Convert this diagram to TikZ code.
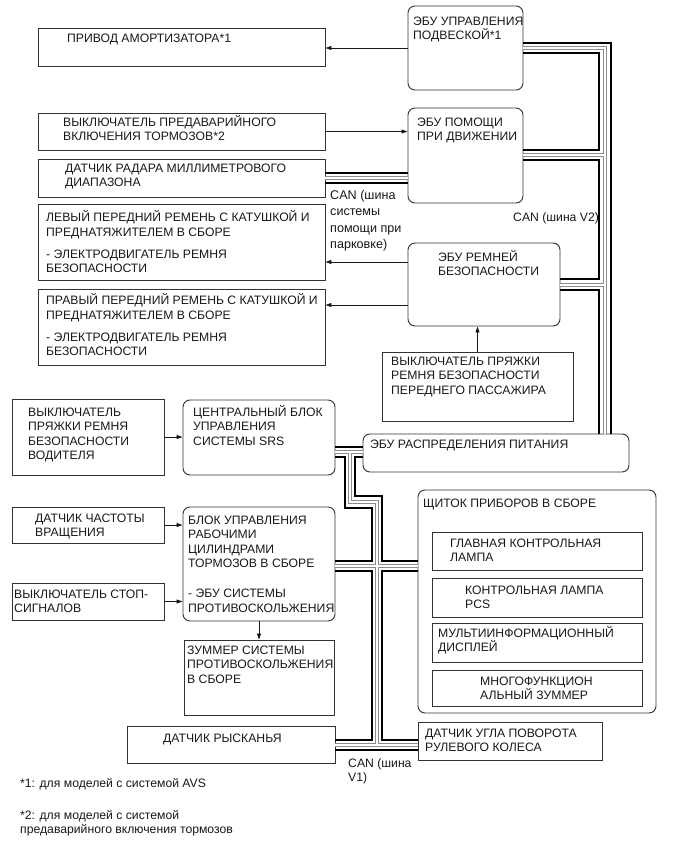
\documentclass[tikz,border=0pt]{standalone}
\usepackage{fontspec}
\setmainfont{Liberation Sans}
\usetikzlibrary{arrows.meta,fit}
\begin{document}
\begin{tikzpicture}[x=1pt,y=-1pt,
  bx/.style={draw=black!80, line width=0.95pt, inner sep=0pt},
  rbx/.style={bx, rounded corners=7pt},
  txt/.style={inner sep=0pt, anchor=base west, align=left, text=black!90,
    font=\fontsize{12.2}{14.5}\selectfont},
  cantxt/.style={txt, font=\fontsize{12.6}{16.5}\selectfont},
  arr/.style={line width=0.9pt, draw=black!90, -{Triangle[length=6pt,width=4pt]}},
  bk/.style={line width=2.3pt, draw=black},
  gout/.style={line width=3.4pt, draw=black!45},
  gin/.style={line width=1.5pt, draw=white},
]
\fill[white] (0,0) rectangle (690,854);
\useasboundingbox (0,0) rectangle (690,854);

% ---------- boxes ----------
\node[bx, fit={(38,28)(325,66)}] (privod) {};
\node[rbx, fit={(408,6)(523,90)}] (ecuSusp) {};
\node[bx, fit={(38,113)(325,150)}] (preSw) {};
\node[rbx, fit={(408,108)(523,203)}] (ecuDrv) {};
\node[bx, fit={(38,159)(325,197)}] (radar) {};
\node[bx, fit={(38,204)(325,280)}] (beltL) {};
\node[bx, fit={(38,289)(325,365)}] (beltR) {};
\node[rbx, fit={(408,243)(560,326)}] (ecuBelt) {};
\node[bx, fit={(382,352)(573,421)}] (passSw) {};
\node[bx, fit={(12,399)(164,475)}] (drvSw) {};
\node[rbx, fit={(183,400)(335,475)}] (srs) {};
\node[rbx, fit={(363,434)(629,472)}] (ecuPwr) {};
\node[bx, fit={(12,507)(164,543)}] (speed) {};
\node[rbx, fit={(183,507)(335,621)}] (brake) {};
\node[bx, fit={(12,583)(164,620)}] (stopSw) {};
\node[bx, fit={(184,640)(334,715)}] (buzz) {};
\node[rbx, fit={(418,490)(656,713)}] (meter) {};
\node[bx, fit={(432,532)(642,570)}] (lamp1) {};
\node[bx, fit={(432,578)(642,617)}] (lamp2) {};
\node[bx, fit={(432,623)(642,662)}] (mid) {};
\node[bx, fit={(432,670)(642,706)}] (mbuzz) {};
\node[bx, fit={(127,726)(335,763)}] (yaw) {};
\node[bx, fit={(418,722)(602,760)}] (steer) {};

% ---------- CAN buses ----------
\coordinate (xA) at (599,0);
\coordinate (xG) at (605,0);
\coordinate (xB) at (611,0);
% gray wires (two passes)
\foreach \st in {gout,gin}{
  \draw[\st] (ecuSusp.east |- 0,48) -| (ecuPwr.north -| xG);
  \draw[\st] (ecuDrv.east |- 0,155) -- (xG |- 0,155);
  \draw[\st] (ecuBelt.east |- 0,285) -- (xG |- 0,285);
  \draw[\st] (radar.east |- 0,178) -- (ecuDrv.west |- 0,178);
  \draw[\st] (srs.east |- 0,452) -- (ecuPwr.west |- 0,452);
  \draw[\st] (350,452) -- (350,502) -- (377,502) -- (377,745);
  \draw[\st] (brake.east |- 0,566) -- (meter.west |- 0,566);
  \draw[\st] (yaw.east |- 0,745) -- (steer.west |- 0,745);
}
% black wires
\draw[bk] (ecuSusp.east |- 0,43) -| (ecuPwr.north -| xB);
\draw[bk] (ecuSusp.east |- 0,53) -| (xA |- 0,150) -- (ecuDrv.east |- 0,150);
\draw[bk] (ecuDrv.east |- 0,160) -| (xA |- 0,279) -- (ecuBelt.east |- 0,279);
\draw[bk] (ecuBelt.east |- 0,290) -| (ecuPwr.north -| xA);
\draw[bk] (radar.east |- 0,173) -- (ecuDrv.west |- 0,173);
\draw[bk] (radar.east |- 0,183) -- (ecuDrv.west |- 0,183);
\draw[bk] (srs.east |- 0,447) -- (ecuPwr.west |- 0,447);
\draw[bk] (srs.east |- 0,457) -- (345,457) -- (345,508) -- (372,508) -- (372,561) -- (brake.east |- 0,561);
\draw[bk] (ecuPwr.west |- 0,457) -- (355,457) -- (355,496) -- (382,496) -- (382,561) -- (meter.west |- 0,561);
\draw[bk] (brake.east |- 0,571) -- (372,571) -- (372,740) -- (yaw.east |- 0,740);
\draw[bk] (meter.west |- 0,571) -- (382,571) -- (382,740) -- (steer.west |- 0,740);
\draw[bk] (yaw.east |- 0,750) -- (steer.west |- 0,750);

% ---------- arrows ----------
\draw[arr] (ecuSusp.west) -- (ecuSusp.west -| privod.east);
\draw[arr] (preSw.east) -- (preSw.east -| ecuDrv.west);
\draw[arr] ([yshift=22.5pt]ecuBelt.west) -- ([yshift=22.5pt]ecuBelt.west -| beltL.east);
\draw[arr] ([yshift=-20.5pt]ecuBelt.west) -- ([yshift=-20.5pt]ecuBelt.west -| beltR.east);
\draw[arr] (passSw.north) -- (passSw.north |- ecuBelt.south);
\draw[arr] (drvSw.east) -- (drvSw.east -| srs.west);
\draw[arr] (speed.east) -- (speed.east -| brake.west);
\draw[arr] (stopSw.east) -- (stopSw.east -| brake.west);
\draw[arr] (brake.south) -- (brake.south |- buzz.north);

% ---------- texts (positions are baselines of the last line) ----------
\node[txt] (tPrivod) at (67,42) {ПРИВОД АМОРТИЗАТОРА*1};
\node[txt] (tSusp) at (413,39.5) {ЭБУ УПРАВЛЕНИЯ\\ПОДВЕСКОЙ*1};
\node[txt] (tPre) at (63,140.5) {ВЫКЛЮЧАТЕЛЬ ПРЕДАВАРИЙНОГО\\ВКЛЮЧЕНИЯ ТОРМОЗОВ*2};
\node[txt] (tRadar) at (65,186.5) {ДАТЧИК РАДАРА МИЛЛИМЕТРОВОГО\\ДИАПАЗОНА};
\node[txt] (tDrv) at (417,140.5) {ЭБУ ПОМОЩИ\\ПРИ ДВИЖЕНИИ};
\node[cantxt] (tCanP) at (330,248.5) {CAN (шина\\системы\\помощи при\\парковке)};
\node[txt] (tBeltL) at (46,272.5) {ЛЕВЫЙ ПЕРЕДНИЙ РЕМЕНЬ С КАТУШКОЙ И\\ПРЕДНАТЯЖИТЕЛЕМ В СБОРЕ\\[7.5pt]- ЭЛЕКТРОДВИГАТЕЛЬ РЕМНЯ\\БЕЗОПАСНОСТИ};
\node[txt] (tBeltR) at (46,355.5) {ПРАВЫЙ ПЕРЕДНИЙ РЕМЕНЬ С КАТУШКОЙ И\\ПРЕДНАТЯЖИТЕЛЕМ В СБОРЕ\\[7.5pt]- ЭЛЕКТРОДВИГАТЕЛЬ РЕМНЯ\\БЕЗОПАСНОСТИ};
\node[txt] (tV2) at (513,221) {CAN (шина V2)};
\node[txt] (tBelt) at (438,275.5) {ЭБУ РЕМНЕЙ\\БЕЗОПАСНОСТИ};
\node[txt] (tPass) at (391,394) {ВЫКЛЮЧАТЕЛЬ ПРЯЖКИ\\РЕМНЯ БЕЗОПАСНОСТИ\\ПЕРЕДНЕГО ПАССАЖИРА};
\node[txt] (tDrvSw) at (28,459.5) {ВЫКЛЮЧАТЕЛЬ\\ПРЯЖКИ РЕМНЯ\\БЕЗОПАСНОСТИ\\ВОДИТЕЛЯ};
\node[txt] (tSrs) at (193,445) {ЦЕНТРАЛЬНЫЙ БЛОК\\УПРАВЛЕНИЯ\\СИСТЕМЫ SRS};
\node[txt] (tPwr) at (370,448) {ЭБУ РАСПРЕДЕЛЕНИЯ ПИТАНИЯ};
\node[txt] (tMeter) at (423,507) {ЩИТОК ПРИБОРОВ В СБОРЕ};
\node[txt] (tLamp1) at (450,561.5) {ГЛАВНАЯ КОНТРОЛЬНАЯ\\ЛАМПА};
\node[txt] (tLamp2) at (465,608.5) {КОНТРОЛЬНАЯ ЛАМПА\\PCS};
\node[txt] (tMid) at (438,651.5) {МУЛЬТИИНФОРМАЦИОННЫЙ\\ДИСПЛЕЙ};
\node[txt] (tMbuzz) at (480,699.5) {МНОГОФУНКЦИОН\\АЛЬНЫЙ ЗУММЕР};
\node[txt] (tSpeed) at (35,536.5) {ДАТЧИК ЧАСТОТЫ\\ВРАЩЕНИЯ};
\node[txt] (tBrake) at (188,612) {БЛОК УПРАВЛЕНИЯ\\РАБОЧИМИ\\ЦИЛИНДРАМИ\\ТОРМОЗОВ В СБОРЕ\\[15.5pt]- ЭБУ СИСТЕМЫ\\ПРОТИВОСКОЛЬЖЕНИЯ};
\node[txt] (tStop) at (14,612.5) {ВЫКЛЮЧАТЕЛЬ СТОП-\\СИГНАЛОВ};
\node[txt] (tBuzz) at (187,683) {ЗУММЕР СИСТЕМЫ\\ПРОТИВОСКОЛЬЖЕНИЯ\\В СБОРЕ};
\node[txt] (tYaw) at (163,742) {ДАТЧИК РЫСКАНЬЯ};
\node[txt] (tSteer) at (425,751.5) {ДАТЧИК УГЛА ПОВОРОТА\\РУЛЕВОГО КОЛЕСА};
\node[txt] (tV1) at (348,781.5) {CAN (шина\\V1)};
\node[txt] (tFn1) at (20,787) {*1: для моделей с системой AVS};
\node[txt] (tFn2) at (20,833.5) {*2: для моделей с системой\\предаварийного включения тормозов};
\end{tikzpicture}
\end{document}
